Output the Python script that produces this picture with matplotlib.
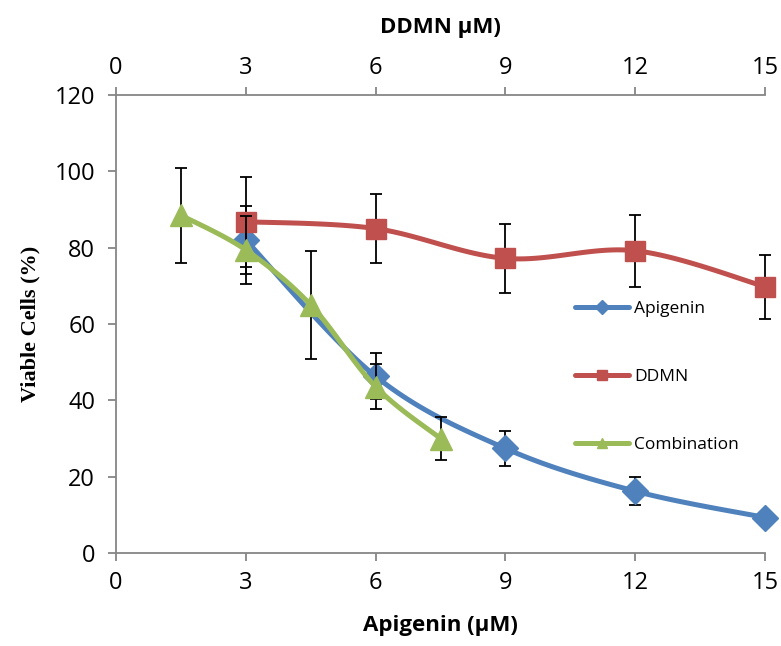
import numpy as np
import matplotlib
matplotlib.use("Agg")
import matplotlib.pyplot as plt
from matplotlib import font_manager as fm
from matplotlib.lines import Line2D

# ---- data ----
api_x = [3, 6, 9, 12, 15]
api_y = [82.0, 46.3, 27.4, 16.2, 9.3]
api_err = [9.0, 6.0, 4.6, 3.7, 0.0]

ddmn_x = [3, 6, 9, 12, 15]
ddmn_y = [86.8, 85.0, 77.2, 79.2, 69.8]
ddmn_err = [11.8, 9.0, 9.1, 9.4, 8.4]

comb_x = [1.5, 3, 4.5, 6, 7.5]
comb_y = [88.5, 79.4, 65.0, 43.6, 30.0]
comb_err = [12.5, 9.0, 14.2, 6.0, 5.7]

xticks = [0, 3, 6, 9, 12, 15]
yticks = [0, 20, 40, 60, 80, 100, 120]

names = [f.name for f in fm.fontManager.ttflist]
sans = "Liberation Sans Narrow" if "Liberation Sans Narrow" in names else "Open Sans"
serif = "Liberation Serif"

def smooth(x, y, n=30):
    x = np.asarray(x, float); y = np.asarray(y, float)
    P = np.column_stack([x, y])
    out = []
    for i in range(len(P) - 1):
        p0 = P[i - 1] if i > 0 else P[i]
        p1 = P[i]; p2 = P[i + 1]
        p3 = P[i + 2] if i + 2 < len(P) else P[i + 1]
        c1 = p1 + (p2 - p0) / 6.0
        c2 = p2 - (p3 - p1) / 6.0
        t = np.linspace(0, 1, n)[:, None]
        seg = ((1 - t) ** 3) * p1 + 3 * ((1 - t) ** 2) * t * c1 + 3 * (1 - t) * t ** 2 * c2 + t ** 3 * p2
        out.append(seg if i == 0 else seg[1:])
    s = np.vstack(out)
    return s[:, 0], s[:, 1]

fig = plt.figure(figsize=(7.81, 6.46), dpi=100)
ax = fig.add_axes([116 / 781, 1 - 553 / 646, (765 - 116) / 781, (553 - 95) / 646])

blue, red, green = "#4F81BD", "#C0504D", "#9BBB59"
series = [
    ("Apigenin", api_x, api_y, api_err, blue, "D", 13),
    ("DDMN", ddmn_x, ddmn_y, ddmn_err, red, "s", 15),
    ("Combination", comb_x, comb_y, comb_err, green, "^", 16),
]
handles = []
for k, (name, x, y, e, c, m, ms) in enumerate(series):
    eb = ax.errorbar(x, y, yerr=e, fmt="none", ecolor="black", elinewidth=1.3,
                     capsize=4.5, capthick=1.3, zorder=2 + k * 2)
    for art in eb.get_children():
        art.set_clip_on(False)
    sx, sy = smooth(x, y)
    ax.plot(sx, sy, color=c, lw=3.6, zorder=3 + k * 2, solid_capstyle="round", clip_on=False)
    ax.plot(x, y, ls="none", marker=m, ms=ms, color=c, zorder=3 + k * 2, clip_on=False)
    handles.append(Line2D([], [], color=c, lw=3.6, marker=m, ms=7, solid_capstyle="round"))

ax.set_xlim(0, 15)
ax.set_ylim(0, 120)
ax.set_xticks(xticks)
ax.set_yticks(yticks)
gray = "#868686"
for s in ["left", "bottom", "top"]:
    ax.spines[s].set_color(gray)
    ax.spines[s].set_linewidth(1.3)
ax.spines["right"].set_visible(False)
ax.tick_params(axis="both", direction="out", color=gray, width=1.3, length=6,
               labelsize=17, pad=7)
ax.tick_params(axis="y", pad=9)
for lab in ax.get_xticklabels() + ax.get_yticklabels():
    lab.set_fontfamily(sans)

ax.set_xlabel("Apigenin (µM)", fontsize=16, fontweight="bold", family=sans, labelpad=14)
ax.set_ylabel("Viable Cells (%)", fontsize=16, fontweight="bold", family=serif, labelpad=10)

ax2 = ax.twiny()
ax2.set_xlim(0, 15)
ax2.set_xticks(xticks)
for s in ax2.spines.values():
    s.set_visible(False)
ax2.tick_params(axis="x", direction="out", color=gray, width=1.3, length=6,
                labelsize=17, pad=5)
for lab in ax2.get_xticklabels():
    lab.set_fontfamily(sans)
ax2.set_xlabel("DDMN µM)", fontsize=16, fontweight="bold", family=sans, labelpad=16)

leg = fig.legend(handles=handles, labels=[s[0] for s in series], loc="center left",
                 bbox_to_anchor=(575 / 781, 1 - 377 / 646), frameon=False,
                 prop={"family": sans, "size": 12.5}, labelspacing=3.0,
                 handlelength=3.1, handletextpad=0.3, borderpad=0, borderaxespad=0)

fig.savefig("out.png", dpi=100)
